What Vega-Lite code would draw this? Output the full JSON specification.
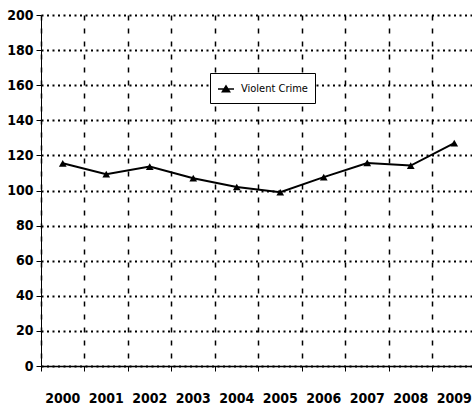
{
  "$schema": "https://vega.github.io/schema/vega-lite/v6.json",
  "autosize": "none",
  "padding": {"left": 41, "top": 15, "right": 0, "bottom": 46},
  "width": 435,
  "height": 351,
  "background": "white",
  "data": {"values": [
    {"year": "2000", "value": 115.5, "series": "Violent Crime"},
    {"year": "2001", "value": 109.3, "series": "Violent Crime"},
    {"year": "2002", "value": 113.6, "series": "Violent Crime"},
    {"year": "2003", "value": 107.0, "series": "Violent Crime"},
    {"year": "2004", "value": 102.0, "series": "Violent Crime"},
    {"year": "2005", "value": 99.0, "series": "Violent Crime"},
    {"year": "2006", "value": 107.6, "series": "Violent Crime"},
    {"year": "2007", "value": 115.7, "series": "Violent Crime"},
    {"year": "2008", "value": 114.2, "series": "Violent Crime"},
    {"year": "2009", "value": 127.0, "series": "Violent Crime"}
  ]},
  "config": {
    "view": {"stroke": null},
    "font": "DejaVu Sans Condensed, Liberation Sans, sans-serif"
  },
  "encoding": {
    "x": {
      "field": "year", "type": "ordinal",
      "scale": {"type": "band", "paddingInner": 0, "paddingOuter": 0},
      "axis": {
        "title": null, "labelAngle": 0, "bandPosition": 0,
        "labelOffset": 0, "labelPadding": 20,
        "labelFont": "DejaVu Sans Condensed, Liberation Sans, sans-serif", "labelFontWeight": "bold", "labelFontSize": 14, "labelColor": "black",
        "domainColor": "black", "domainWidth": 1.5,
        "tickColor": "black", "tickSize": 5, "tickWidth": 1,
        "grid": true, "gridColor": "black", "gridWidth": 1.5, "gridDash": [5, 8], "gridOpacity": 1
      }
    },
    "y": {
      "field": "value", "type": "quantitative",
      "scale": {"domain": [0, 200], "nice": false},
      "axis": {
        "title": null, "values": [0,20,40,60,80,100,120,140,160,180,200],
        "labelFont": "DejaVu Sans Condensed, Liberation Sans, sans-serif", "labelFontWeight": "bold", "labelFontSize": 14, "labelColor": "black",
        "labelPadding": 3,
        "domainColor": "black", "domainWidth": 1,
        "tickColor": "black", "tickSize": 5, "tickWidth": 1,
        "grid": true, "gridColor": "black", "gridWidth": 2, "gridDash": [2, 3.5], "gridOpacity": 1
      }
    }
  },
  "layer": [
    {
      "mark": {"type": "line", "color": "black", "strokeWidth": 2}
    },
    {
      "mark": {"type": "point", "filled": true, "opacity": 1, "size": 60, "shape": "triangle-up", "color": "black"}
    },
    {
      "mark": {"type": "point", "filled": true, "opacity": 1, "size": 0, "color": "black"},
      "encoding": {
        "shape": {
          "field": "series", "type": "nominal",
          "scale": {"range": ["M-1,-0.1L1,-0.1L1,0.1L-1,0.1Z M0,-0.55L0.62,0.45L-0.62,0.45Z"]},
          "legend": {
            "title": null, "orient": "none", "legendX": 169, "legendY": 58,
            "strokeColor": "black", "fillColor": "white",
            "padding": 7, "labelFont": "DejaVu Sans Condensed, Liberation Sans, sans-serif", "labelFontSize": 11, "labelColor": "black",
            "symbolSize": 256, "symbolFillColor": "black",
            "labelOffset": 6,
            "encode": {"symbols": {"update": {"fill": {"value": "black"}, "opacity": {"value": 1}, "size": {"value": 256}}}}
          }
        }
      }
    }
  ]
}
